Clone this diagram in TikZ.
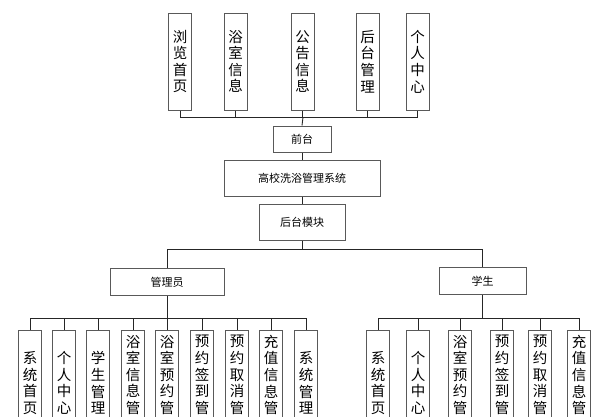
\documentclass[tikz,border=0pt]{standalone}
\usepackage{fontspec}
\setmainfont{Noto Sans CJK SC}
\begin{document}
\begin{tikzpicture}[x=1pt,y=-1pt,
  box/.style={draw=black!65, line width=1pt, fill=white, inner sep=0pt},
  vbox/.style={box, minimum width=23pt, align=center, font=\fontsize{14.5}{16.6}\selectfont},
  hbox/.style={box, font=\fontsize{11}{13}\selectfont},
  link/.style={draw=black!85, line width=0.9pt}]
\useasboundingbox (0,0) rectangle (609,416);
\clip (0,0) rectangle (609,416);
% top row
\node[vbox, minimum height=97pt] (t1) at (180,61.5) {浏\\览\\首\\页};
\node[vbox, minimum height=97pt] (t2) at (235.5,61.5) {浴\\室\\信\\息};
\node[vbox, minimum height=97pt] (t3) at (302.5,61.5) {公\\告\\信\\息};
\node[vbox, minimum height=97pt] (t4) at (367.5,61.5) {后\\台\\管\\理};
\node[vbox, minimum height=97pt] (t5) at (417.5,61.5) {个\\人\\中\\心};
% middle chain
\node[hbox, minimum width=58pt, minimum height=26pt] (front) at (302,139) {前台};
\node[hbox, minimum width=156pt, minimum height=36pt] (sys) at (302,178) {高校洗浴管理系统};
\node[hbox, minimum width=86pt, minimum height=36pt] (back) at (302,222) {后台模块};
\coordinate (tbus) at (303,117);
\foreach \i in {1,...,5} \draw[link] (t\i.south) |- (tbus);
\draw[link] (tbus) -- (front.north);
\draw[link] (front.south) -- (sys.north);
\draw[link] (sys.south) -- (back.north);
% roles
\node[hbox, minimum width=114pt, minimum height=27pt] (adm) at (167,282) {管理员};
\node[hbox, minimum width=87pt, minimum height=27pt] (stu) at (482.5,281) {学生};
\coordinate (mbus) at (302,249);
\draw[link] (back.south) -- (mbus);
\draw[link] (mbus) -| (adm.north);
\draw[link] (mbus) -| (stu.north);
% admin children
\coordinate (abus) at (167,318);
\draw[link] (adm.south) -- (abus);
\foreach \x/\t [count=\i] in {30/{系\\统\\首\\页},64/{个\\人\\中\\心},98/{学\\生\\管\\理},
  133/{浴\\室\\信\\息\\管\\理},167/{浴\\室\\预\\约\\管\\理},202/{预\\约\\签\\到\\管\\理},
  237/{预\\约\\取\\消\\管\\理},271/{充\\值\\信\\息\\管\\理},306/{系\\统\\管\\理}}{
  \node[vbox, minimum height=106pt] (ac\i) at (\x,383) {\t};
  \draw[link] (ac\i.north) |- (abus);
}
% student children
\coordinate (sbus) at (482.5,318);
\draw[link] (stu.south) -- (sbus);
\foreach \x/\t [count=\i] in {378/{系\\统\\首\\页},418/{个\\人\\中\\心},460/{浴\\室\\预\\约\\管\\理},
  502/{预\\约\\签\\到\\管\\理},540/{预\\约\\取\\消\\管\\理},579/{充\\值\\信\\息\\管\\理}}{
  \node[vbox, minimum height=106pt] (sc\i) at (\x,383) {\t};
  \draw[link] (sc\i.north) |- (sbus);
}
\end{tikzpicture}
\end{document}
